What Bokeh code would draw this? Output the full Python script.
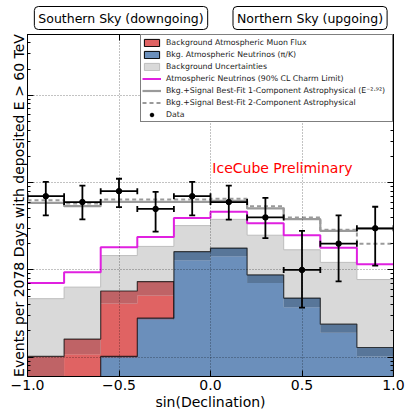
from bokeh.plotting import figure
from bokeh.layouts import column
from bokeh.models import (ColumnDataSource, FixedTicker, LogAxis, LinearAxis, Range1d,
                          Label, Legend, LegendItem, Whisker, TeeHead)
from bokeh.embed import file_html
from bokeh.resources import INLINE

# ---------------- data ----------------
edges = [-1.0, -0.8, -0.6, -0.4, -0.2, 0.0, 0.2, 0.4, 0.6, 0.8, 1.0]
data_counts = [7, 6, 8, 5, 7, 6, 4, 1, 2, 3]
data_err_hi = [10.2, 9.25, 11.1, 7.83, 10.2, 9.25, 6.70, 2.80, 4.22, 5.30]
data_err_lo = [4.22, 3.80, 5.24, 2.75, 4.22, 3.77, 2.31, 0.37, 0.74, 1.12]
muon_central = [0.05, 0.108, 0.411, 0.510, 0, 0, 0, 0, 0, 0]
muon_upper = [0.102, 0.161, 0.573, 0.736, 0, 0, 0, 0, 0, 0]
nu_central = [0, 0, 0.099, 0.272, 1.29, 1.43, 0.706, 0.373, 0.191, 0.102]
nu_upper = [0, 0, 0.102, 0.280, 1.62, 1.78, 0.877, 0.476, 0.239, 0.129]
bkg_unc_upper = [0.468, 0.635, 1.46, 1.86, 3.22, 3.80, 2.50, 1.70, 1.22, 0.776]
charm_limit = [0.706, 0.94, 1.82, 2.39, 3.93, 4.65, 3.42, 2.50, 1.79, 1.16]
fit_1comp = [5.88, 5.38, 6.04, 6.04, 6.04, 6.20, 5.07, 3.83, 2.80, 2.98]
fit_2comp = [6.30, 5.77, 6.41, 6.41, 6.41, 6.53, 5.36, 4.00, 2.88, 1.99]

x_ticks = [-1.0, -0.5, 0.0, 0.5, 1.0]
x_tick_labels = ["\u22121.0", "\u22120.5", "0.0", "0.5", "1.0"]
y_major = [0.1, 1, 10, 100]
sky_labels = ["Southern Sky (downgoing)", "Northern Sky (upgoing)"]
sky_label_x = [-0.489, 0.544]

FLOOR = 1e-3
RED = "#E06363"
RED_DARK = "#BF6366"
BLUE = "#6B8FBB"
BLUE_DARK = "#587699"
GRAY = "#D9D9D9"
MAGENTA = "#E020E0"
LGRAY = "#9A9A9A"
FONT = "DejaVu Sans"
TOP_H = 30


def steps(vals):
    xs, ys = [], []
    for i, v in enumerate(vals):
        v = max(v, FLOOR)
        xs += [edges[i], edges[i + 1]]
        ys += [v, v]
    return xs, ys


def outline(vals):
    xs, ys = steps(vals)
    return [edges[0]] + xs + [edges[-1]], [FLOOR] + ys + [FLOOR]


p = figure(width=407, height=412 - TOP_H, x_axis_type="linear", y_axis_type="log",
           x_range=Range1d(-1, 1), y_range=Range1d(0.06, 500),
           output_backend="svg", toolbar_location=None,
           min_border_left=27, min_border_right=14, min_border_top=34 - TOP_H, min_border_bottom=34)
p.title.visible = False
p.outline_line_color = "black"
p.outline_line_width = 1
p.background_fill_color = "white"
p.border_fill_color = "white"

# background uncertainty band
xs, ys = steps(bkg_unc_upper)
p.varea(x=xs, y1=[FLOOR] * len(xs), y2=ys, fill_color=GRAY)
ox, oy = outline(bkg_unc_upper)
p.line(ox, oy, line_color="#BDBDBD", line_width=1)

# muon flux
xs, yc = steps(muon_central)
_, yu = steps(muon_upper)
p.varea(x=xs, y1=[FLOOR] * len(xs), y2=yc, fill_color=RED)
p.varea(x=xs, y1=yc, y2=yu, fill_color=RED_DARK)
ox, oy = outline(muon_upper)
p.line(ox, oy, line_color="black", line_alpha=0.7, line_width=1.2)

# atmospheric neutrinos
xs, yc = steps(nu_central)
_, yu = steps(nu_upper)
p.varea(x=xs, y1=[FLOOR] * len(xs), y2=yc, fill_color=BLUE)
p.varea(x=xs, y1=yc, y2=yu, fill_color=BLUE_DARK)
ox, oy = outline(nu_upper)
p.line(ox, oy, line_color="black", line_alpha=0.7, line_width=1.2)

# charm limit & best fits
xs, ys = steps(charm_limit)
p.line(xs, ys, line_color=MAGENTA, line_width=2)
xs, ys = steps(fit_1comp)
p.line(xs, ys, line_color=LGRAY, line_width=2.2)
xs, ys = steps(fit_2comp)
p.line(xs, ys, line_color=LGRAY, line_width=2, line_dash="4 3")

# data
centers = [(edges[i] + edges[i + 1]) / 2 for i in range(len(data_counts))]
src = ColumnDataSource(dict(x=centers, y=data_counts, lo=data_err_lo, hi=data_err_hi,
                            xl=edges[:-1], xr=edges[1:]))
for dim, base, lo, hi in [("height", "x", "lo", "hi"), ("width", "y", "xl", "xr")]:
    w = Whisker(source=src, base=base, lower=lo, upper=hi, dimension=dim,
                line_color="black", line_width=1.8, level="annotation",
                upper_head=TeeHead(size=6, line_color="black", line_width=1.8),
                lower_head=TeeHead(size=6, line_color="black", line_width=1.8))
    p.add_layout(w)
p.scatter("x", "y", source=src, size=5.5, color="black")

# grid
p.xgrid.ticker = FixedTicker(ticks=[-0.5, 0.0, 0.5])
p.ygrid.ticker = FixedTicker(ticks=y_major)
for g in (p.xgrid, p.ygrid):
    g.grid_line_color = "black"
    g.grid_line_alpha = 0.6
    g.grid_line_width = 0.8
    g.grid_line_dash = "1 2"
    g.level = "guide"

# axes
minor = [k * 10.0 ** e for e in range(-2, 3) for k in range(2, 10)]
xax = p.xaxis[0]
yax = p.yaxis[0]
xax.ticker = FixedTicker(ticks=x_ticks, minor_ticks=[])
xax.major_label_overrides = {t: s for t, s in zip(x_ticks, x_tick_labels)}
xax.axis_label = "sin(Declination)"
xax.major_label_text_font_size = "14px"
xax.major_label_standoff = 3
xax.axis_label_standoff = 1
xax.axis_label_text_font_size = "14px"
yax.ticker = FixedTicker(ticks=y_major, minor_ticks=minor)
yax.axis_label = "Events per 2078 Days with deposited E > 60 TeV"
yax.major_label_text_font_size = "1px"
yax.major_label_text_alpha = 0
yax.major_label_standoff = 0
yax.axis_label_standoff = 1
yax.axis_label_text_font_size = "14px"
for ax in (xax, yax):
    ax.major_label_text_font = FONT
    ax.axis_label_text_font = FONT
    ax.axis_label_text_font_style = "normal"
    ax.axis_label_text_color = "black"
    ax.major_label_text_color = "black"
    ax.major_tick_in = 6
    ax.major_tick_out = 0
    ax.minor_tick_in = 3
    ax.minor_tick_out = 0
    ax.axis_line_color = "black"
    ax.major_tick_line_color = "black"
    ax.minor_tick_line_color = "black"

top = LinearAxis(ticker=FixedTicker(ticks=x_ticks, minor_ticks=[]), major_label_text_font_size="1px",
                 major_label_text_alpha=0, major_label_standoff=0, major_tick_in=6,
                 major_tick_out=0, minor_tick_in=0, minor_tick_out=0)
p.add_layout(top, "above")
right = LogAxis(ticker=FixedTicker(ticks=y_major, minor_ticks=minor), major_label_text_font_size="1px",
                major_label_text_alpha=0, major_label_standoff=0, major_tick_in=6,
                major_tick_out=0, minor_tick_in=3, minor_tick_out=0)
p.add_layout(right, "right")

p.add_layout(Label(x=0.01, y=14.7, text="IceCube Preliminary", text_color="red",
                   text_font=FONT, text_font_size="14px", text_align="left",
                   text_baseline="alphabetic"))

# legend (proxy renderers, degenerate data outside the view)
x0, y0 = [edges[0]], [FLOOR]
r_mu = p.quad(left=x0, right=x0, top=y0, bottom=y0, fill_color=RED, line_color="black", line_width=1)
r_nu = p.quad(left=x0, right=x0, top=y0, bottom=y0, fill_color=BLUE, line_color="black", line_width=1)
r_un = p.quad(left=x0, right=x0, top=y0, bottom=y0, fill_color=GRAY, line_color="#BDBDBD", line_width=1)
r_ch = p.line(x=x0, y=y0, line_color=MAGENTA, line_width=2)
r_f1 = p.line(x=x0, y=y0, line_color=LGRAY, line_width=2.2)
r_f2 = p.line(x=x0, y=y0, line_color=LGRAY, line_width=2, line_dash="4 3")
r_da = p.scatter(x=x0, y=y0, size=5, color="black")

items = [
    LegendItem(label="Background Atmospheric Muon Flux", renderers=[r_mu]),
    LegendItem(label="Bkg. Atmospheric Neutrinos (\u03c0/K)", renderers=[r_nu]),
    LegendItem(label="Background Uncertainties", renderers=[r_un]),
    LegendItem(label="Atmospheric Neutrinos (90% CL Charm Limit)", renderers=[r_ch]),
    LegendItem(label="Bkg.+Signal Best-Fit 1-Component Astrophysical (E\u207b\u00b2\u00b7\u2079\u00b2)", renderers=[r_f1]),
    LegendItem(label="Bkg.+Signal Best-Fit 2-Component Astrophysical", renderers=[r_f2]),
    LegendItem(label="Data", renderers=[r_da]),
]
legend = Legend(items=items, location=(113, 254), margin=0, padding=1, spacing=0,
                glyph_width=19, glyph_height=9, label_height=12, label_width=225,
                label_standoff=5, label_text_font=FONT, label_text_font_size="7.8px",
                label_text_color="#222222", border_line_color="black", border_line_width=1.2,
                background_fill_color="white", background_fill_alpha=1)
p.add_layout(legend, "center")

# strip above the plot holding the two sky labels
t = figure(width=407, height=TOP_H, x_range=p.x_range, y_range=Range1d(0, 1),
           x_axis_location=None, y_axis_location=None, output_backend="svg",
           toolbar_location=None, min_border_left=27, min_border_right=14,
           min_border_top=0, min_border_bottom=0)
t.title.visible = False
t.outline_line_color = None
t.xgrid.visible = False
t.ygrid.visible = False
for xc, txt in zip(sky_label_x, sky_labels):
    t.add_layout(Label(x=xc, y=(TOP_H - 17.5) / TOP_H, text=txt, text_font=FONT,
                       text_font_size="12.5px", text_align="center", text_baseline="middle",
                       text_color="black", border_line_color="black", border_line_width=1,
                       background_fill_color="white", padding=4, border_radius=4))

open("out.html", "w").write(file_html(column(t, p, spacing=0), INLINE))
